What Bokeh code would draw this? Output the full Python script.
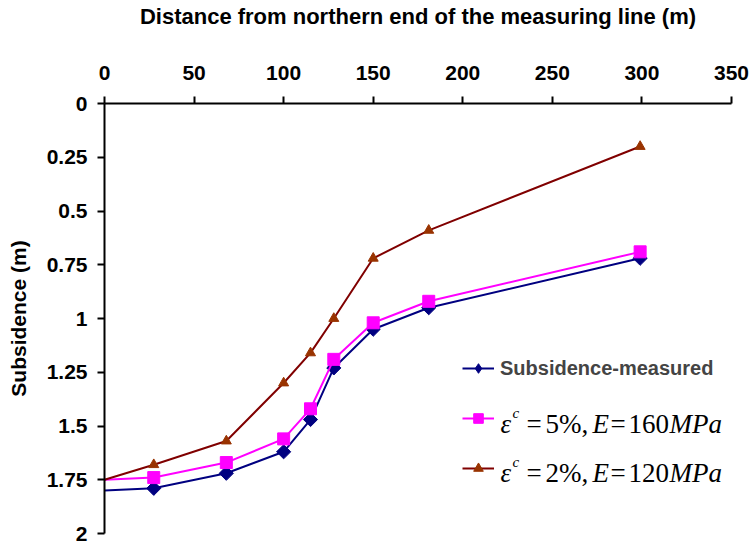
import math
from bokeh.plotting import figure
from bokeh.models import Range1d, FixedTicker, Legend, LegendItem, Label
from bokeh.embed import file_html
from bokeh.resources import INLINE

# Distance along the measuring line (m) and subsidence (m) for each series
distance = [0, 27.5, 68, 100, 115, 128, 150, 181, 299]
measured = [1.80, 1.79, 1.72, 1.62, 1.47, 1.23, 1.05, 0.95, 0.72]
model_e5_160 = [1.75, 1.74, 1.67, 1.56, 1.42, 1.19, 1.02, 0.92, 0.69]
model_e2_120 = [1.75, 1.68, 1.57, 1.30, 1.16, 1.00, 0.72, 0.59, 0.20]

x_ticks = [0, 50, 100, 150, 200, 250, 300, 350]
y_ticks = [0, 0.25, 0.5, 0.75, 1, 1.25, 1.5, 1.75, 2]
y_tick_labels = ["0", "0.25", "0.5", "0.75", "1", "1.25", "1.5", "1.75", "2"]

SANS = "Liberation Sans"
SERIF = "Liberation Serif"

p = figure(width=750, height=544, x_range=Range1d(0, 350), y_range=Range1d(2, 0),
           x_axis_location="above", output_backend="svg", toolbar_location=None,
           min_border_left=104, min_border_right=19, min_border_top=103, min_border_bottom=11)
p.grid.visible = False
p.outline_line_color = None
p.background_fill_color = "white"
p.border_fill_color = "white"

for ax in (p.xaxis[0], p.yaxis[0]):
    ax.axis_line_width = 2
    ax.axis_line_color = "black"
    ax.major_tick_line_width = 2
    ax.major_tick_line_color = "black"
    ax.major_tick_in = 0
    ax.major_tick_out = 7
    ax.minor_tick_line_color = None
    ax.major_label_text_font = SANS
    ax.major_label_text_font_style = "bold"
    ax.major_label_text_font_size = "21px"
    ax.major_label_text_color = "black"
    ax.axis_label_text_font = SANS
    ax.axis_label_text_font_style = "bold"
    ax.axis_label_text_color = "black"

p.xaxis[0].ticker = FixedTicker(ticks=x_ticks)
p.xaxis[0].major_label_standoff = 17
p.xaxis[0].axis_label = "Distance from northern end of the measuring line (m)"
p.xaxis[0].axis_label_text_font_size = "22px"
p.xaxis[0].axis_label_standoff = 34

p.yaxis[0].ticker = FixedTicker(ticks=y_ticks)
p.yaxis[0].major_label_overrides = {v: s for v, s in zip(y_ticks, y_tick_labels)}
p.yaxis[0].major_label_standoff = 10
p.yaxis[0].axis_label = "Subsidence (m)"
p.yaxis[0].axis_label_text_font_size = "21px"
p.yaxis[0].axis_label_standoff = 14

# Series: lines start at the line's northern end, markers from the first survey point on
l1 = p.line(distance, measured, line_color="#000080", line_width=2)
m1 = p.scatter(distance[1:], measured[1:], marker="square", angle=math.pi / 4, size=10,
               fill_color="#000080", line_color="#000080")
l2 = p.line(distance, model_e5_160, line_color="#FF00FF", line_width=2)
m2 = p.scatter(distance[1:], model_e5_160[1:], marker="square", size=12,
               fill_color="#FF00FF", line_color="#FF00FF")
l3 = p.line(distance, model_e2_120, line_color="#800000", line_width=2)
m3 = p.scatter(distance[1:], model_e2_120[1:], marker="triangle", size=10,
               fill_color="#993300", line_color="#993300")

# Legend swatch for the measured series (the plotted diamonds are rotated squares);
# it holds no plottable point, only the marker style used by the legend.
key1 = p.scatter(x=[math.nan], y=[math.nan], marker="diamond", size=18,
                 fill_color="#000080", line_color="#000080")

legend_style = dict(padding=0, margin=0, border_line_color=None, background_fill_alpha=0,
                    glyph_width=32, glyph_height=24, label_height=24, spacing=26,
                    label_standoff=6)

legend_a = Legend(items=[LegendItem(label="Subsidence-measured", renderers=[l1, key1])],
                  location=(358, 153), label_text_font=SANS, label_text_font_style="bold",
                  label_text_font_size="20px", **legend_style)
legend_b = Legend(items=[LegendItem(label=" ", renderers=[l2, m2]),
                         LegendItem(label=" ", renderers=[l3, m3])],
                  location=(358, 53), label_text_font_size="15px", **legend_style)
p.add_layout(legend_a, "center")
p.add_layout(legend_b, "center")

# Model parameter labels, typeset in pieces (italic symbols, upright numbers)
def formula(x0, y0, strain, modulus):
    pieces = [
        (0, "ε", "italic", 27, 0),
        (12, "c", "italic", 15, 11),
        (26, "=", "normal", 27, 0),
        (45, strain + ",", "normal", 27, 0),
        (92, "E", "italic", 27, 0),
        (110, "=", "normal", 27, 0),
        (128, modulus, "normal", 27, 0),
        (169, "MPa", "italic", 27, 0),
    ]
    for dx, txt, style, size, rise in pieces:
        p.add_layout(Label(x=x0 + dx, y=y0 + rise, x_units="screen", y_units="screen",
                           text=txt, text_font=SERIF, text_font_style=style,
                           text_font_size=f"{size}px", text_color="black",
                           text_baseline="alphabetic", text_align="left"))

formula(396, 110, "5%", "160")
formula(396, 61, "2%", "120")

open("out.html", "w").write(file_html(p, INLINE))
